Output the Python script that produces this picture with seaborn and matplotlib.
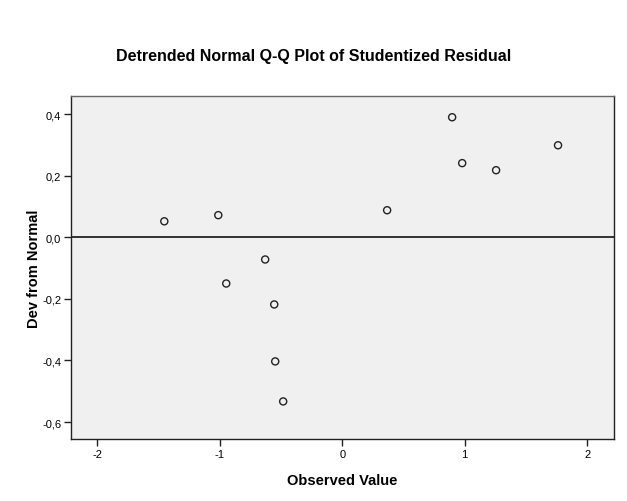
import matplotlib
matplotlib.use("Agg")
import matplotlib.pyplot as plt
import seaborn as sns
import pandas as pd
from matplotlib.ticker import FuncFormatter

observed = [-1.453, -1.012, -0.947, -0.629, -0.555, -0.547, -0.482, 0.367, 0.898, 0.980, 1.257, 1.763]
deviation = [0.052, 0.072, -0.150, -0.072, -0.218, -0.403, -0.533, 0.088, 0.390, 0.241, 0.218, 0.299]
x_ticks = [-2, -1, 0, 1, 2]
y_ticks = [-0.6, -0.4, -0.2, 0.0, 0.2, 0.4]

df = pd.DataFrame({"Observed Value": observed, "Dev from Normal": deviation})

sns.set_style("white")
plt.rcParams['font.family'] = ['Liberation Sans', 'DejaVu Sans']
plt.rcParams['text.color'] = 'black'
plt.rcParams['axes.labelcolor'] = 'black'

fig = plt.figure(figsize=(6.27, 5.02), dpi=100)
ax = fig.add_axes([71/627, (502-440)/502, (614-71)/627, (440-97)/502])
ax.set_facecolor("#F0F0F0")

ax.axhline(0, color="#222222", linewidth=1.3, zorder=1)
sns.scatterplot(data=df, x="Observed Value", y="Dev from Normal", ax=ax,
                marker="o", s=26, facecolor="none", edgecolor="#222222",
                linewidth=1.0, zorder=3)

ax.set_xlim(-2.215, 2.22)
ax.set_ylim(-0.655, 0.459)
ax.set_xticks(x_ticks)
ax.set_yticks(y_ticks)
ax.xaxis.set_major_formatter(FuncFormatter(lambda v, p: f"{v:.0f}"))
ax.yaxis.set_major_formatter(FuncFormatter(lambda v, p: f"{v:.1f}".replace(".", ",").replace("-0,0", "0,0")))
ax.tick_params(axis="both", direction="out", length=5, width=1, color="#222222",
               labelsize=8, labelcolor="black", pad=2, left=True, bottom=True)

for s in ax.spines.values():
    s.set_color("#222222")
    s.set_linewidth(1.0)
ax.spines["top"].set_color("#666666")

ax.set_xlabel("Observed Value", fontsize=10.5, fontweight="bold", labelpad=10, color="black")
ax.set_ylabel("Dev from Normal", fontsize=10.5, fontweight="bold", color="black")
ax.yaxis.set_label_coords(-0.056, 0.5)
fig.text(314/627, 1 - 57/502, "Detrended Normal Q-Q Plot of Studentized Residual",
         ha="center", va="center", fontsize=11.5, fontweight="bold", color="black")

fig.savefig("out.png", dpi=100, facecolor="white")
